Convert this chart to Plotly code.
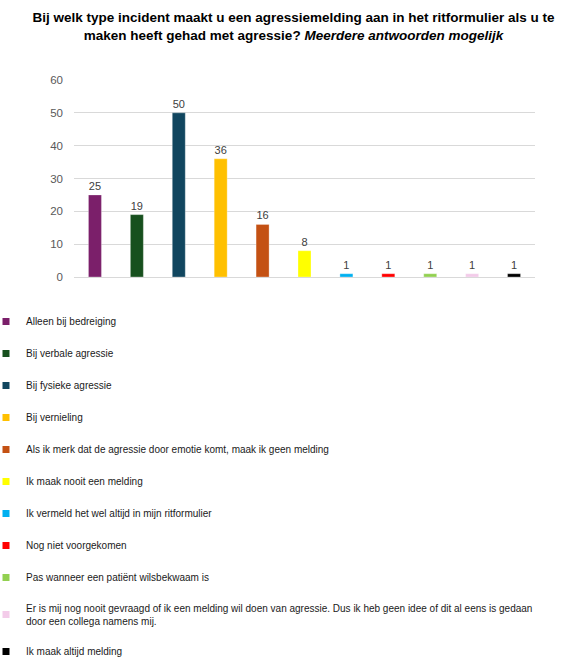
import plotly.graph_objects as go

categories = [
    "Alleen bij bedreiging",
    "Bij verbale agressie",
    "Bij fysieke agressie",
    "Bij vernieling",
    "Als ik merk dat de agressie door emotie komt, maak ik geen melding",
    "Ik maak nooit een melding",
    "Ik vermeld het wel altijd in mijn ritformulier",
    "Nog niet voorgekomen",
    "Pas wanneer een patiënt wilsbekwaam is",
    "Er is mij nog nooit gevraagd of ik een melding wil doen van agressie. Dus ik heb geen idee of dit al eens is gedaan<br>door een collega namens mij.",
    "Ik maak altijd melding",
]
values = [25, 19, 50, 36, 16, 8, 1, 1, 1, 1, 1]
colors = ["#7b1f6a", "#17501e", "#11465f", "#ffc000", "#c45113", "#ffff00",
          "#00b0f0", "#ff0000", "#92d050", "#f3cbe9", "#000000"]
y_ticks = [0, 10, 20, 30, 40, 50, 60]

FONT = "Liberation Sans"
W, H = 587, 660
ML, MR, MT, MB = 74, 52, 80, 0
PLOT_BOTTOM = 277          # pixel row of the value axis zero line
LEGEND_TOP = 307           # pixel row of the legend top
LEGEND_LEFT = -14          # pixel column of the legend box left edge
plot_h = H - MT - MB
plot_w = W - ML - MR

fig = go.Figure()
for i, (cat, val, col) in enumerate(zip(categories, values, colors)):
    fig.add_trace(go.Bar(
        x=[i], y=[val], width=0.31,
        marker=dict(color=col, line=dict(color="rgba(255,255,255,0.6)", width=0.5)),
        text=[str(val)], textposition="outside",
        textfont=dict(family=FONT, size=11, color="#404040"),
        cliponaxis=False, showlegend=False, hoverinfo="skip",
    ))
    fig.add_trace(go.Scatter(
        x=[None], y=[None], mode="markers", name=cat,
        marker=dict(symbol="square", size=7, color=col),
        legendgroup="g%d" % i, showlegend=True,
    ))

fig.update_layout(
    width=W, height=H,
    margin=dict(l=ML, r=MR, t=MT, b=MB, autoexpand=False),
    paper_bgcolor="white", plot_bgcolor="white",
    barmode="overlay",
    title=dict(
        text="<b>Bij welk type incident maakt u een agressiemelding aan in het ritformulier als u te<br>maken heeft gehad met agressie? <i>Meerdere antwoorden mogelijk</i></b>",
        x=0.5, xanchor="center", xref="container",
        y=1 - 22 / H, yanchor="top", yref="container",
        font=dict(family=FONT, size=13.5, color="#000000"),
    ),
    xaxis=dict(range=[-0.5, 10.5], showticklabels=False, showgrid=False,
               zeroline=False, showline=False, ticks="", automargin=False),
    yaxis=dict(range=[0, 60], tickvals=y_ticks, showgrid=True, gridcolor="#d9d9d9",
               gridwidth=1, zeroline=True, zerolinecolor="#d9d9d9", zerolinewidth=1,
               showline=False, ticks="", ticklabelstandoff=10, automargin=False,
               domain=[(H - PLOT_BOTTOM - MB) / plot_h, 1],
               tickfont=dict(family=FONT, size=11.5, color="#595959")),
    legend=dict(
        xref="paper", yref="paper",
        x=(LEGEND_LEFT - ML) / plot_w, y=(H - MB - LEGEND_TOP) / plot_h,
        xanchor="left", yanchor="top", orientation="v",
        font=dict(family=FONT, size=10, color="#1a1a1a"),
        tracegroupgap=13, itemwidth=30, bgcolor="rgba(0,0,0,0)",
    ),
)

fig.write_html("out.html", config={"displayModeBar": False},
               post_script="document.body.style.margin='0';")
